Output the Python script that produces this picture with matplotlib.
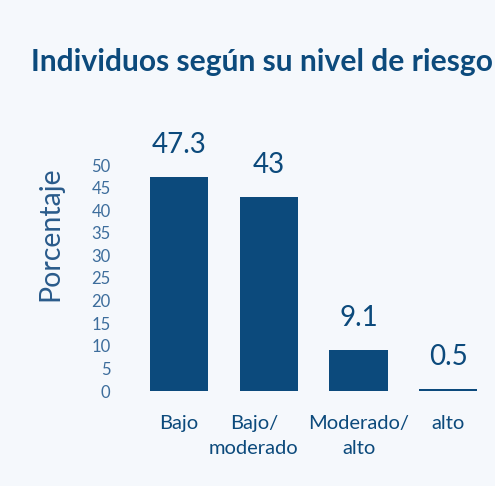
import matplotlib
matplotlib.use("Agg")
import matplotlib.pyplot as plt
from matplotlib.transforms import offset_copy

categories = ["Bajo", "Bajo/\nmoderado", "Moderado/\nalto", "alto"]
values = [47.3, 43, 9.1, 0.5]
value_labels = ["47.3", "43", "9.1", "0.5"]
yticks = [0, 5, 10, 15, 20, 25, 30, 35, 40, 45, 50]

bg = "#f5f8fc"
navy = "#0c4a7c"
tick_col = "#3d6d9c"

plt.rcParams["font.family"] = ["Lato", "DejaVu Sans"]

fig = plt.figure(figsize=(4.95, 4.86), dpi=100, facecolor=bg)
ax = fig.add_axes([130 / 495, 95 / 486, 365 / 495, 226 / 486])
ax.set_facecolor(bg)

x = list(range(len(values)))
ax.bar(x, values, width=0.65, color=navy)

for xi, v, lab in zip(x, values, value_labels):
    ax.annotate(lab, (xi, v), xytext=(0, 23), textcoords="offset points",
                ha="center", va="center", fontsize=20, color=navy)

ax.set_xlim(-0.546, 3.52)
ax.set_ylim(0, 50)
ax.set_yticks(yticks)
ax.set_yticklabels([str(t) for t in yticks], fontsize=12, color=tick_col)
ax.set_xticks(x)
ax.set_xticklabels(categories, fontsize=14.5, color=navy, linespacing=1.6)
ax.tick_params(axis="both", length=0)
ax.tick_params(axis="y", pad=14)
ax.tick_params(axis="x", pad=17)
for s in ax.spines.values():
    s.set_visible(False)
# the second label sits a bit left of its bar in the original
lbl = ax.get_xticklabels()[1]
lbl.set_transform(offset_copy(lbl.get_transform(), fig=fig, x=-15, y=0, units="dots"))

fig.text(50 / 495, 1 - 234 / 486, "Porcentaje", rotation=90, ha="center", va="center",
         fontsize=20.5, color="#2a5b8b")
fig.text(31 / 495, 1 - 62 / 486, "Individuos según su nivel de riesgo", ha="left", va="center",
         fontsize=21.6, fontweight="bold", color=navy)

fig.savefig("out.png", dpi=100, facecolor=bg)
